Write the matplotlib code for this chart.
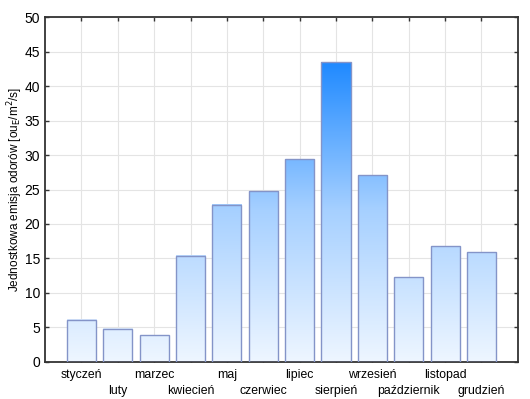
import numpy as np
import matplotlib
matplotlib.use("Agg")
import matplotlib.pyplot as plt
from matplotlib.colors import LinearSegmentedColormap

plt.rcParams['font.family'] = ['Liberation Sans', 'DejaVu Sans']

months = ["styczeń", "luty", "marzec", "kwiecień", "maj", "czerwiec",
          "lipiec", "sierpień", "wrzesień", "październik", "listopad", "grudzień"]
emission = [6.1, 4.8, 3.9, 15.4, 22.8, 24.8, 29.4, 43.5, 27.1, 12.3, 16.8, 15.9]

cmap = LinearSegmentedColormap.from_list("blu", ["#eef6ff", "#a6d0ff", "#1c88ff"])

fig = plt.figure(figsize=(5.3, 3.99), dpi=100)
ax = fig.add_axes([0.085, 0.093, 0.892, 0.864])

x = np.arange(len(months))
width = 0.8
grad = np.linspace(0, 1, 256).reshape(-1, 1)
for xi, v in zip(x, emission):
    # gradient follows absolute height so taller bars get darker tops
    img = grad[: max(2, int(256 * v / 44.0))]
    ax.imshow(img, cmap=cmap, vmin=0, vmax=1, aspect="auto", origin="lower",
              extent=(xi - width / 2, xi + width / 2, 0, v), zorder=2)
    ax.bar(xi, v, width=width, facecolor="none", edgecolor="#8494c8",
           linewidth=1.0, zorder=3)

ax.set_xlim(-1, 12)
ax.set_ylim(0, 50)
ax.set_yticks(np.arange(0, 51, 5))
ax.set_xticks(x)
ax.set_xticklabels(months, fontsize=8.8)
ax.tick_params(axis="y", labelsize=10)
ax.tick_params(direction="in", length=3, width=1, color="#333333",
               top=True, right=True)
ax.tick_params(axis="x", pad=5)
# staggered month labels: every second one sits a row lower
for i, t in enumerate(ax.xaxis.get_major_ticks()):
    if i % 2 == 1:
        t.set_pad(16.5)
ax.grid(True, color="#e4e4e4", linewidth=0.8, zorder=0)
ax.set_axisbelow(True)
for s in ax.spines.values():
    s.set_linewidth(1.3)
    s.set_color("#333333")
ax.set_ylabel("Jednostkowa emisja odorów [ou$_{\\mathrm{E}}$/m$^2$/s]", fontsize=8.5)
ax.yaxis.set_label_coords(-0.043, 0.5)

fig.savefig("out.png", dpi=100)
